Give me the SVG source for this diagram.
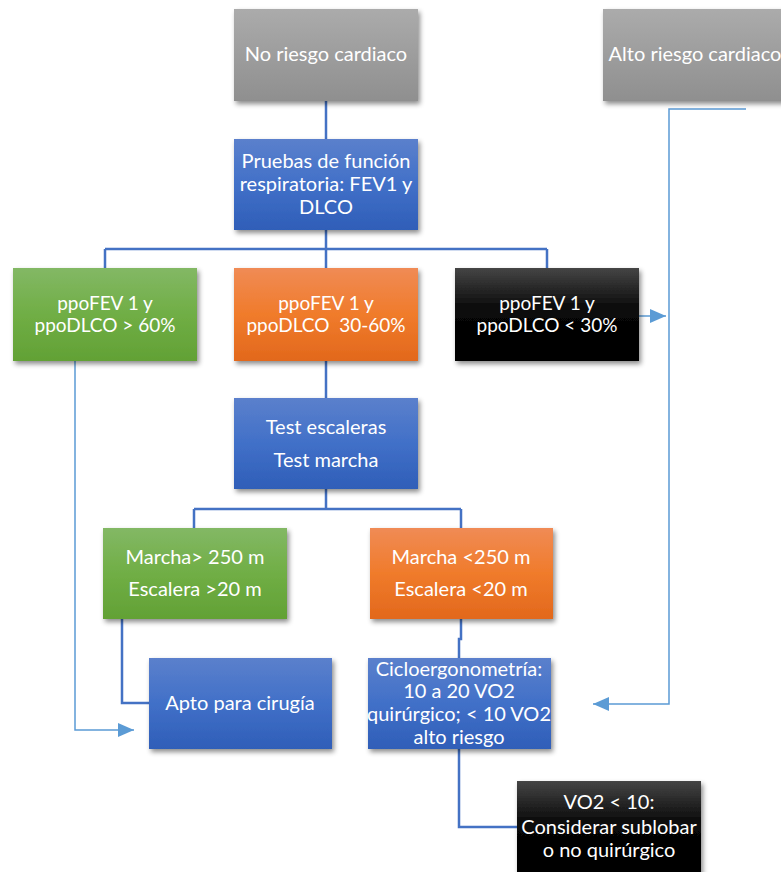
<svg xmlns="http://www.w3.org/2000/svg" width="781" height="872" viewBox="0 0 781 872">
<defs>
<linearGradient id="gGray" x1="0" y1="0" x2="0" y2="1"><stop offset="0" stop-color="#ababab"/><stop offset="1" stop-color="#8f8f8f"/></linearGradient>
<linearGradient id="gBlue" x1="0" y1="0" x2="0" y2="1"><stop offset="0" stop-color="#5b80cc"/><stop offset="0.5" stop-color="#4170c8"/><stop offset="1" stop-color="#2f5eb8"/></linearGradient>
<linearGradient id="gGreen" x1="0" y1="0" x2="0" y2="1"><stop offset="0" stop-color="#83b865"/><stop offset="0.5" stop-color="#70ae45"/><stop offset="1" stop-color="#62a135"/></linearGradient>
<linearGradient id="gOrange" x1="0" y1="0" x2="0" y2="1"><stop offset="0" stop-color="#f08b55"/><stop offset="0.5" stop-color="#f07b2b"/><stop offset="1" stop-color="#e2681c"/></linearGradient>
<linearGradient id="gBlack" x1="0" y1="0" x2="0" y2="1"><stop offset="0" stop-color="#454545"/><stop offset="0.45" stop-color="#080808"/><stop offset="1" stop-color="#000000"/></linearGradient>
<filter id="sh" x="-10%" y="-10%" width="125%" height="130%"><feDropShadow dx="2" dy="3" stdDeviation="2.5" flood-color="#000" flood-opacity="0.45"/></filter>
<marker id="arr" markerUnits="userSpaceOnUse" markerWidth="16" markerHeight="14" refX="16" refY="7" orient="auto"><path d="M0,0 L16,7 L0,14 z" fill="#5b9bd5"/></marker>
</defs>
<style>
.box{filter:url(#sh);}
.t{font-family:Lato,"Open Sans","Liberation Sans",sans-serif;fill:#ffffff;text-anchor:middle;font-size:20px;}
.t19{font-size:19px;}
.c{fill:none;stroke:#4472c4;stroke-width:2.5;}
.l{fill:none;stroke:#5b9bd5;stroke-width:1.5;}
</style>
<g id="connectors">
<path class="c" d="M326,101 V139"/>
<path class="c" d="M326,230 V249 M105,249 H547 M105,249 V268 M326,249 V268 M547,249 V268"/>
<path class="c" d="M326,361 V398"/>
<path class="c" d="M326,489 V509 M194,509 H461 M194,509 V528 M461,509 V528"/>
<path class="c" d="M122,619 V703 H149"/>
<path class="c" d="M461,619 V639 H459 V658"/>
<path class="c" d="M459,749 V827 H517"/>
<path class="l" d="M746,109 H669 V704 H593" marker-end="url(#arr)"/>
<path class="l" d="M639,316 H666" marker-end="url(#arr)"/>
<path class="l" d="M75,361 V730 H134" marker-end="url(#arr)"/>
</g>
<g id="no-riesgo"><rect class="box" x="234" y="9" width="184" height="92" fill="url(#gGray)"/><text class="t" x="326" y="61">No riesgo cardiaco</text></g>
<g id="alto-riesgo"><rect class="box" x="603" y="9" width="184" height="92" fill="url(#gGray)"/><text class="t" x="695" y="61">Alto riesgo cardiaco</text></g>
<g id="pruebas"><rect class="box" x="234" y="139" width="184" height="91" fill="url(#gBlue)"/><text class="t" x="326" y="168">Pruebas de función</text><text class="t" x="326" y="191">respiratoria: FEV1 y</text><text class="t" x="326" y="214">DLCO</text></g>
<g id="ppo-alto"><rect class="box" x="13" y="268" width="184" height="93" fill="url(#gGreen)"/><text class="t t19" x="105" y="310">ppoFEV 1 y</text><text class="t t19" x="105" y="332">ppoDLCO &gt; 60%</text></g>
<g id="ppo-medio"><rect class="box" x="234" y="268" width="184" height="93" fill="url(#gOrange)"/><text class="t t19" x="326" y="310">ppoFEV 1 y</text><text class="t t19" x="326" y="332" xml:space="preserve">ppoDLCO  30-60%</text></g>
<g id="ppo-bajo"><rect class="box" x="455" y="268" width="184" height="93" fill="url(#gBlack)"/><text class="t t19" x="547" y="310">ppoFEV 1 y</text><text class="t t19" x="547" y="332">ppoDLCO &lt; 30%</text></g>
<g id="test"><rect class="box" x="234" y="398" width="184" height="91" fill="url(#gBlue)"/><text class="t" x="326" y="434">Test escaleras</text><text class="t" x="326" y="467">Test marcha</text></g>
<g id="marcha-alta"><rect class="box" x="103" y="528" width="184" height="91" fill="url(#gGreen)"/><text class="t" x="195" y="564">Marcha&gt; 250 m</text><text class="t" x="195" y="596">Escalera &gt;20 m</text></g>
<g id="marcha-baja"><rect class="box" x="370" y="528" width="183" height="91" fill="url(#gOrange)"/><text class="t" x="461" y="564">Marcha &lt;250 m</text><text class="t" x="461" y="596">Escalera &lt;20 m</text></g>
<g id="apto"><rect class="box" x="149" y="658" width="183" height="91" fill="url(#gBlue)"/><text class="t" x="240" y="710">Apto para cirugía</text></g>
<g id="ciclo"><rect class="box" x="368" y="658" width="183" height="91" fill="url(#gBlue)"/><text class="t" x="459" y="676">Cicloergonometría:</text><text class="t" x="459" y="698">10 a 20 VO2</text><text class="t" x="459" y="721">quirúrgico; &lt; 10 VO2</text><text class="t" x="459" y="744">alto riesgo</text></g>
<g id="vo2"><rect class="box" x="517" y="781" width="184" height="95" fill="url(#gBlack)"/><text class="t" x="609" y="809">VO2 &lt; 10:</text><text class="t" x="609" y="834">Considerar sublobar</text><text class="t" x="609" y="857">o no quirúrgico</text></g>
</svg>
